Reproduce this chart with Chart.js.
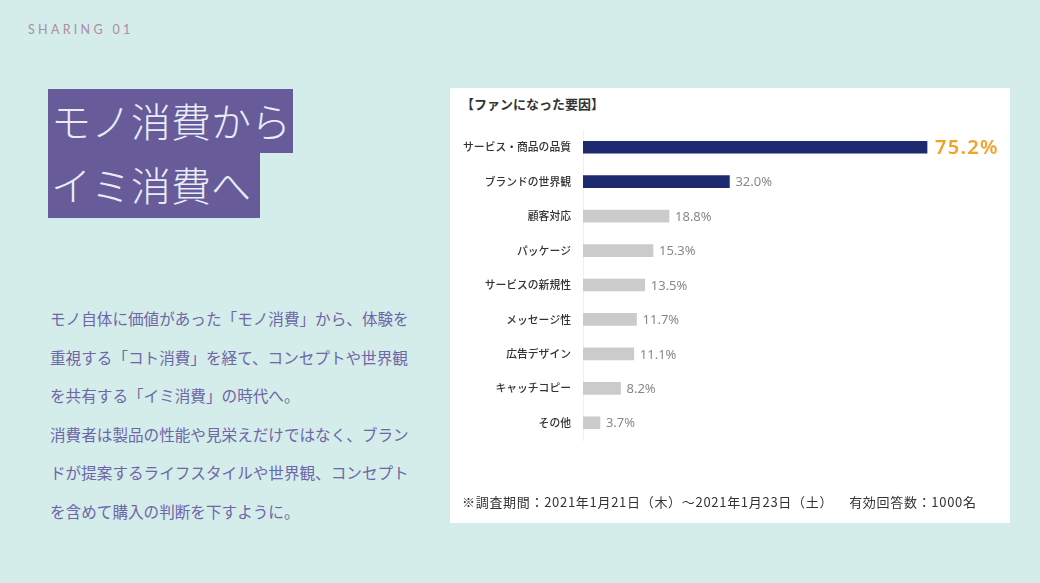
<!DOCTYPE html>
<html lang="ja">
<head>
<meta charset="utf-8">
<script src="https://cdn.jsdelivr.net/npm/chart.js@4.4.1/dist/chart.umd.min.js"></script>
<style>
  html, body { margin: 0; padding: 0; }
  body {
    width: 1040px; height: 583px; overflow: hidden; position: relative;
    background: #d4ecea;
    font-family: "Noto Sans CJK JP", "Noto Sans", sans-serif;
  }
  .kicker {
    position: absolute; left: 28px; top: 22px;
    font-family: "Lato", "Noto Sans", sans-serif;
    font-size: 12.5px; font-weight: 400; letter-spacing: 3.3px; color: #ae8ca1;
  }
  .title-line {
    position: absolute; left: 48px; background: #675b9a;
    color: #e8ecf7; font-size: 40px; font-weight: 300;
    padding-left: 3px; box-sizing: border-box; white-space: nowrap;
  }
  .body-text {
    position: absolute; left: 50px; top: 299px; width: 380px;
    font-size: 15.6px; line-height: 38.5px; color: #6e66a6;
    white-space: nowrap;
  }
  .panel {
    position: absolute; left: 450px; top: 88px; width: 560px; height: 435px;
    background: #ffffff;
  }
  .panel-title {
    position: absolute; left: 11px; top: 6px;
    font-size: 13px; font-weight: 700; color: #333;
  }
  .panel-note {
    position: absolute; left: 12px; top: 404px;
    font-size: 13px; letter-spacing: 0.7px; color: #333; white-space: nowrap;
  }
  .panel-note span { margin-left: 16px; }
  #chart-wrap { position: absolute; left: 0; top: 0; width: 560px; height: 435px; }
</style>
</head>
<body>
<div class="kicker">SHARING 01</div>
<div class="title-line" style="top:89px;width:245px;height:64px;line-height:62px;">モノ消費から</div>
<div class="title-line" style="top:153px;width:212px;height:65px;line-height:62px;">イミ消費へ</div>
<div class="body-text">
  モノ自体に価値があった「モノ消費」から、体験を<br>
  重視する「コト消費」を経て、コンセプトや世界観<br>
  を共有する「イミ消費」の時代へ。<br>
  消費者は製品の性能や見栄えだけではなく、ブラン<br>
  ドが提案するライフスタイルや世界観、コンセプト<br>
  を含めて購入の判断を下すように。
</div>

<div class="panel">
  <div class="panel-title">【ファンになった要因】</div>
  <div id="chart-wrap"><canvas id="fan-factor-chart"></canvas></div>
  <div class="panel-note">※調査期間：2021年1月21日（木）～2021年1月23日（土）<span>有効回答数：1000名</span></div>
</div>

<script>
var factorLabels = ['サービス・商品の品質', 'ブランドの世界観', '顧客対応', 'パッケージ', 'サービスの新規性', 'メッセージ性', '広告デザイン', 'キャッチコピー', 'その他'];
var factorValues = [75.2, 32.0, 18.8, 15.3, 13.5, 11.7, 11.1, 8.2, 3.7];

var navy = '#1e2a6f';
var lightGray = '#cbcbcb';
var barColors = factorValues.map(function (v, i) {
    return i < 2 ? navy : lightGray;
});

// percent labels at the end of each bar
var valueLabels = {
    id: 'valueLabels',
    afterDatasetsDraw: function (chart) {
        var ctx = chart.ctx;
        var meta = chart.getDatasetMeta(0);
        ctx.save();
        ctx.textBaseline = 'middle';
        ctx.textAlign = 'left';
        meta.data.forEach(function (bar, i) {
            var text = factorValues[i].toFixed(1) + '%';
            if (i === 0) {
                ctx.fillStyle = '#f4a128';
                ctx.font = '600 20px "Noto Sans", sans-serif';
                ctx.letterSpacing = '1.3px';
                ctx.fillText(text, bar.x + 8, bar.y + 1);
                ctx.letterSpacing = '0px';
            } else {
                ctx.fillStyle = '#888888';
                ctx.font = '400 13px "Noto Sans", sans-serif';
                ctx.fillText(text, bar.x + 6, bar.y + 1);
            }
        });
        ctx.restore();
    },
};

var fanChart = new Chart(document.getElementById('fan-factor-chart'), {
    type: 'bar',
    data: {
        labels: factorLabels,
        datasets: [
            {
                data: factorValues,
                backgroundColor: barColors,
                borderWidth: 0,
                barThickness: 12,
            },
        ],
    },
    options: {
        indexAxis: 'y',
        responsive: true,
        maintainAspectRatio: false,
        animation: false,
        layout: {
            padding: { top: 42, bottom: 83, right: 61, left: 0 },
        },
        scales: {
            x: {
                display: false,
                min: 0,
                max: 80,
            },
            y: {
                grid: { display: false, drawTicks: false },
                border: { display: true, color: '#efefef', width: 1 },
                ticks: {
                    color: '#333333',
                    padding: 12,
                    font: { family: '"Noto Sans CJK JP", sans-serif', size: 10.8, weight: 500 },
                },
                afterFit: function (scale) {
                    scale.width = 133;
                },
            },
        },
        plugins: {
            legend: { display: false },
            tooltip: { enabled: false },
        },
    },
    plugins: [valueLabels],
});
</script>
</body>
</html>
